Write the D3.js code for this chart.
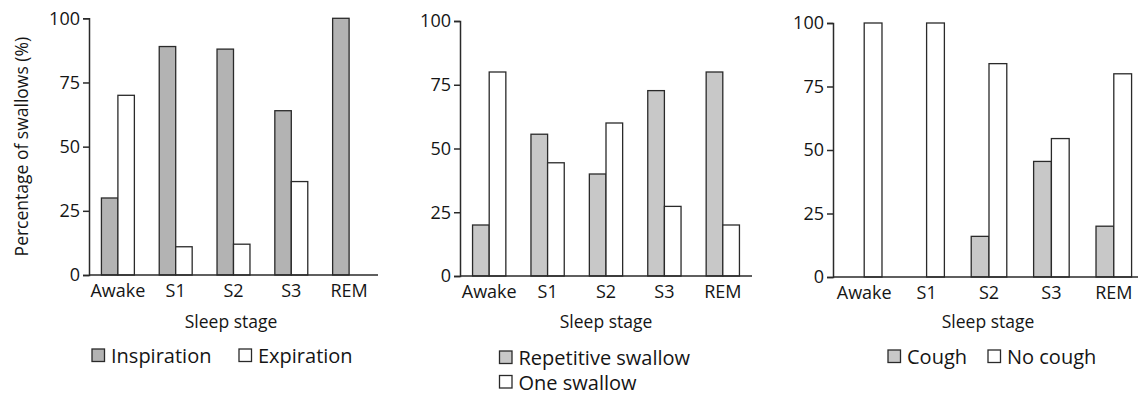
<!DOCTYPE html>
<html>
<head>
<meta charset="utf-8">
<script src="https://cdn.jsdelivr.net/npm/d3@7"></script>
<style>
  body { margin: 0; background: #fff; }
  text { font-family: "Open Sans", sans-serif; fill: #151515; }
</style>
</head>
<body>
<div id="chart"></div>
<script>
// Data
const stages = ["Awake", "S1", "S2", "S3", "REM"];
const yTicks = [0, 25, 50, 75, 100];

const inspiration = [30, 89, 88, 64, 100];
const expiration = [70, 11, 12, 36.4, 0];

const repetitiveSwallow = [20, 55.6, 40, 72.7, 80];
const oneSwallow = [80, 44.4, 60, 27.3, 20];

const cough = [0, 0, 16, 45.5, 20];
const noCough = [100, 100, 84, 54.5, 80];

const width = 1138;
const height = 400;

const svg = d3.select("#chart")
    .append("svg")
    .attr("width", width)
    .attr("height", height);

// Each panel: its own x/y ranges, series and legend placement
const panels = [
    {
        x0: 89, x1: 378, yTop: 18.3, yBottom: 275, titleX: 231,
        series: [
            { name: "Inspiration", values: inspiration, fill: "#b3b3b3" },
            { name: "Expiration", values: expiration, fill: "#ffffff" }
        ],
        legend: [[92, 349], [239, 349]],
        yTitle: "Percentage of swallows (%)"
    },
    {
        x0: 460, x1: 752, yTop: 21, yBottom: 276, titleX: 606,
        series: [
            { name: "Repetitive swallow", values: repetitiveSwallow, fill: "#c8c8c8" },
            { name: "One swallow", values: oneSwallow, fill: "#ffffff" }
        ],
        legend: [[499.5, 351], [499.5, 375.5]]
    },
    {
        x0: 833, x1: 1145, yTop: 23, yBottom: 277, titleX: 988,
        series: [
            { name: "Cough", values: cough, fill: "#c8c8c8" },
            { name: "No cough", values: noCough, fill: "#ffffff" }
        ],
        legend: [[888, 350], [988, 350]]
    }
];

panels.forEach(function(p) {

    const x = d3.scaleBand()
        .domain(stages)
        .range([p.x0, p.x1])
        .paddingInner(0.43)
        .paddingOuter(0.215);

    const xSub = d3.scaleBand()
        .domain(p.series.map(function(s) { return s.name; }))
        .range([0, x.bandwidth()]);

    const y = d3.scaleLinear()
        .domain([0, 100])
        .range([p.yBottom, p.yTop]);

    const g = svg.append("g");

    // bars
    p.series.forEach(function(s) {
        g.append("g")
            .selectAll("rect")
            .data(stages)
            .join("rect")
            .filter(function(d, i) { return s.values[i] > 0; })
            .attr("x", function(d) { return x(d) + xSub(s.name); })
            .attr("y", function(d) { return y(s.values[stages.indexOf(d)]); })
            .attr("width", xSub.bandwidth())
            .attr("height", function(d) { return p.yBottom - y(s.values[stages.indexOf(d)]); })
            .attr("fill", s.fill)
            .attr("stroke", "#2a2a2a")
            .attr("stroke-width", 1.3);
    });

    // y axis
    const yAxis = g.append("g")
        .attr("transform", "translate(" + p.x0 + ",0)")
        .call(d3.axisLeft(y).tickValues(yTicks).tickSize(6).tickPadding(3));
    yAxis.select(".domain").attr("stroke", "#2a2a2a").attr("stroke-width", 1.5);
    yAxis.selectAll(".tick line").attr("stroke", "#2a2a2a").attr("stroke-width", 1.5);
    yAxis.selectAll("text").attr("font-size", 18).attr("fill", "#151515")
        .style("font-family", "'Open Sans', sans-serif");

    // x axis
    const xAxis = g.append("g")
        .attr("transform", "translate(0," + p.yBottom + ")")
        .call(d3.axisBottom(x).tickSize(0).tickPadding(9).tickSizeOuter(0));
    xAxis.select(".domain")
        .attr("d", "M" + p.x0 + ",0H" + p.x1)
        .attr("stroke", "#2a2a2a").attr("stroke-width", 1.5);
    xAxis.selectAll("text").attr("font-size", 18).attr("fill", "#151515")
        .style("font-family", "'Open Sans', sans-serif");

    // x title
    g.append("text")
        .attr("x", p.titleX)
        .attr("y", 328)
        .attr("text-anchor", "middle")
        .attr("font-size", 17.5)
        .text("Sleep stage");

    // y title
    if (p.yTitle) {
        g.append("text")
            .attr("transform", "translate(28," + (p.yTop + p.yBottom) / 2 + ") rotate(-90)")
            .attr("text-anchor", "middle")
            .attr("font-size", 17.5)
            .text(p.yTitle);
    }

    // legend
    p.series.forEach(function(s, i) {
        const pos = p.legend[i];
        g.append("rect")
            .attr("x", pos[0])
            .attr("y", pos[1])
            .attr("width", 12.5)
            .attr("height", 12.5)
            .attr("fill", s.fill)
            .attr("stroke", "#2a2a2a")
            .attr("stroke-width", 1.3);
        g.append("text")
            .attr("x", pos[0] + 19)
            .attr("y", pos[1] + 14)
            .attr("font-size", 20)
            .text(s.name);
    });
});
</script>
</body>
</html>
